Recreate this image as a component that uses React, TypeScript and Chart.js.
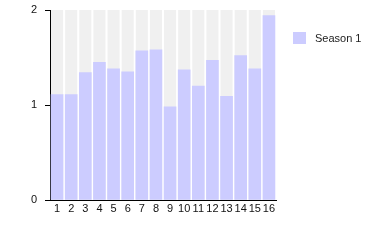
import React, { useEffect, useRef } from "react";
import { Chart, registerables } from "chart.js";

Chart.register(...registerables);

const categories = ["1", "2", "3", "4", "5", "6", "7", "8", "9", "10", "11", "12", "13", "14", "15", "16"];
const season1 = [1.11, 1.11, 1.34, 1.45, 1.38, 1.35, 1.57, 1.58, 0.98, 1.37, 1.2, 1.47, 1.09, 1.52, 1.38, 1.94];
const seriesLabel = "Season 1";
const yMin = 0;
const yMax = 2;

const BAR_COLOR = "#ccccff";
const COLUMN_BG = "#f0f0f0";
const FONT = "'Liberation Sans', Arial, sans-serif";

const columnBackground = {
  id: "columnBackground",
  beforeDatasetsDraw(chart: any) {
    const meta = chart.getDatasetMeta(0);
    const { ctx, chartArea } = chart;
    ctx.save();
    ctx.fillStyle = COLUMN_BG;
    meta.data.forEach((bar: any) => {
      const w = bar.width;
      ctx.fillRect(bar.x - w / 2, chartArea.top, w, chartArea.bottom - chartArea.top);
    });
    ctx.restore();
  },
};

const sideLegend = {
  id: "sideLegend",
  afterDraw(chart: any) {
    const { ctx, chartArea } = chart;
    const ds = chart.data.datasets[0];
    const x = chartArea.right + 17;
    const y = chartArea.top + 22;
    ctx.save();
    ctx.fillStyle = ds.backgroundColor;
    ctx.fillRect(x, y, 13, 12);
    ctx.fillStyle = "#222";
    ctx.font = `11px ${FONT}`;
    ctx.textBaseline = "middle";
    ctx.textAlign = "left";
    ctx.fillText(ds.label, x + 22, y + 6.5);
    ctx.restore();
  },
};

export default function App() {
  const ref = useRef<HTMLCanvasElement>(null);
  useEffect(() => {
    if (!ref.current) return;
    const chart = new Chart(ref.current, {
      type: "bar",
      data: {
        labels: categories,
        datasets: [
          {
            label: seriesLabel,
            data: season1,
            backgroundColor: BAR_COLOR,
            borderWidth: 0,
            barThickness: 12,
          },
        ],
      },
      options: {
        animation: false,
        responsive: false,
        maintainAspectRatio: false,
        layout: { padding: { left: 0, top: 10, right: 99, bottom: 0 } },
        plugins: {
          legend: { display: false },
          tooltip: { enabled: false },
        },
        scales: {
          x: {
            grid: { display: false, drawTicks: false },
            border: { display: true, color: "#000", width: 1 },
            ticks: { color: "#111", font: { family: FONT, size: 11 }, padding: 2, autoSkip: false, maxRotation: 0 },
            afterFit: (s: any) => {
              s.height = 50;
              s.paddingLeft = 0;
              s.paddingRight = 0;
            },
          },
          y: {
            min: yMin,
            max: yMax,
            grid: { drawOnChartArea: false, drawTicks: true, tickLength: 5, color: "#000" },
            border: { display: true, color: "#000", width: 1 },
            ticks: { stepSize: 1, color: "#111", font: { family: FONT, size: 11 }, padding: 8 },
            afterFit: (s: any) => {
              s.width = 50;
              s.paddingTop = 0;
              s.paddingBottom = 0;
            },
          },
        },
      },
      plugins: [columnBackground, sideLegend],
    });
    return () => chart.destroy();
  }, []);
  return (
    <div style={{ position: "fixed", left: 0, top: 0, width: 375, height: 250, background: "#fff" }}>
      <canvas ref={ref} width={375} height={250} style={{ width: 375, height: 250, display: "block" }} />
    </div>
  );
}
